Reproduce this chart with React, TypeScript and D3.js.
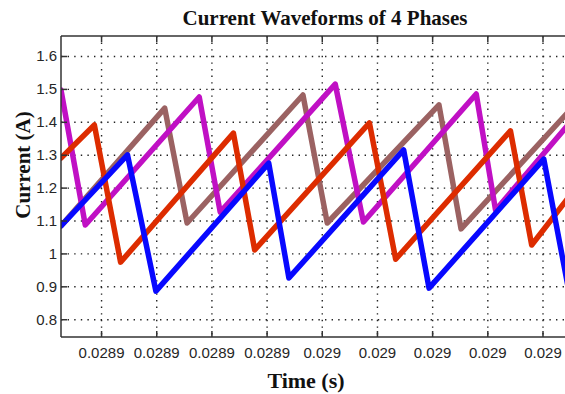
import React from "react";
import * as d3 from "d3";

const title = "Current Waveforms of 4 Phases";
const xLabel = "Time (s)";
const yLabel = "Current (A)";

const xTicks = [0.02888, 0.0289, 0.02892, 0.02894, 0.02896, 0.02898, 0.029, 0.02902, 0.02904];
const xTickLabels = ["0.0289", "0.0289", "0.0289", "0.0289", "0.029", "0.029", "0.029", "0.029", "0.029"];
const yTicks = [0.8, 0.9, 1.0, 1.1, 1.2, 1.3, 1.4, 1.5, 1.6];
const yTickLabels = ["0.8", "0.9", "1", "1.1", "1.2", "1.3", "1.4", "1.5", "1.6"];

// time in microseconds (converted to seconds below), current in A
const brownT = [28865.3, 28902.9, 28911.0, 28953.0, 28961.8, 29002.3, 29010.3, 29049.1];
const brownI = [1.085, 1.443, 1.094, 1.483, 1.094, 1.453, 1.076, 1.431];

const magentaT = [28865.3, 28874.1, 28915.4, 28923.0, 28964.7, 28974.9, 29015.8, 29022.8, 29049.1];
const magentaI = [1.498, 1.088, 1.477, 1.127, 1.516, 1.097, 1.486, 1.133, 1.392];

const redT = [28865.3, 28877.4, 28886.9, 28927.8, 28935.5, 28977.1, 28986.6, 29028.2, 29035.9, 29049.1];
const redI = [1.291, 1.392, 0.975, 1.367, 1.012, 1.398, 0.984, 1.374, 1.027, 1.17];

const blueT = [28865.3, 28889.4, 28899.7, 28940.6, 28947.9, 28989.5, 28998.7, 29040.3, 29049.1];
const blueI = [1.085, 1.301, 0.887, 1.276, 0.927, 1.316, 0.896, 1.288, 0.899];

const series = [
  { name: "Phase 4", color: "#9b6262", t: brownT, i: brownI },
  { name: "Phase 3", color: "#c010c4", t: magentaT, i: magentaI },
  { name: "Phase 2", color: "#dd2c00", t: redT, i: redI },
  { name: "Phase 1", color: "#0808ff", t: blueT, i: blueI },
];

const W = 565;
const H = 394;
const margin = { left: 61, top: 36, right: 0, bottom: 57 };

export default function App() {
  const plotRight = W + 2;
  const x = d3.scaleLinear().domain([0.0288653, 0.0290516]).range([margin.left, plotRight + 8]);
  const y = d3.scaleLinear().domain([0.7475, 1.6623]).range([H - margin.bottom, margin.top]);
  const line = d3
    .line<[number, number]>()
    .x((d) => x(d[0]))
    .y((d) => y(d[1]));
  const x0 = margin.left;
  const x1 = plotRight;
  const y0 = margin.top;
  const y1 = H - margin.bottom;

  return (
    <svg
      width={W}
      height={H}
      style={{ position: "absolute", left: 0, top: 0, background: "#fff" }}
    >
      <defs>
        <clipPath id="plotClip">
          <rect x={x0} y={y0} width={x1 - x0} height={y1 - y0} />
        </clipPath>
      </defs>
      <rect x={0} y={0} width={W} height={H} fill="#fff" />
      {/* grid */}
      <g stroke="#222" strokeWidth={1.4} strokeDasharray="1.4,5.2" fill="none">
        {xTicks.map((t, k) => (
          <line key={"gx" + k} x1={x(t)} x2={x(t)} y1={y0} y2={y1} />
        ))}
        {yTicks.map((v, k) => (
          <line key={"gy" + k} x1={x0} x2={x1} y1={y(v)} y2={y(v)} />
        ))}
      </g>
      {/* series */}
      <g clipPath="url(#plotClip)" fill="none" strokeWidth={5.5} strokeLinejoin="round" strokeLinecap="round">
        {series.map((s) => (
          <path
            key={s.name}
            d={line(s.t.map((tt, k) => [tt / 1e6, s.i[k]] as [number, number])) || ""}
            stroke={s.color}
          />
        ))}
      </g>
      {/* axes box */}
      <g stroke="#333" strokeWidth={1.5} fill="none">
        <line x1={x0} x2={x1} y1={y0} y2={y0} />
        <line x1={x0} x2={x1} y1={y1} y2={y1} />
        <line x1={x0} x2={x0} y1={y0} y2={y1} />
        {xTicks.map((t, k) => (
          <g key={"tx" + k}>
            <line x1={x(t)} x2={x(t)} y1={y1} y2={y1 - 6} />
            <line x1={x(t)} x2={x(t)} y1={y0} y2={y0 + 6} />
          </g>
        ))}
        {yTicks.map((v, k) => (
          <line key={"ty" + k} x1={x0} x2={x0 + 6} y1={y(v)} y2={y(v)} />
        ))}
      </g>
      {/* tick labels */}
      <g fontFamily="'Liberation Sans', Arial, sans-serif" fontSize={15} fill="#262626">
        {xTicks.map((t, k) => (
          <text key={"lx" + k} x={x(t)} y={y1 + 21} textAnchor="middle">
            {xTickLabels[k]}
          </text>
        ))}
        {yTicks.map((v, k) => (
          <text key={"ly" + k} x={x0 - 4} y={y(v) + 5} textAnchor="end">
            {yTickLabels[k]}
          </text>
        ))}
      </g>
      {/* titles */}
      <text
        x={325}
        y={25}
        textAnchor="middle"
        fontFamily="'Liberation Serif', 'Times New Roman', serif"
        fontWeight="bold"
        fontSize={21}
        fill="#111"
      >
        {title}
      </text>
      <text
        x={306}
        y={388}
        textAnchor="middle"
        fontFamily="'Liberation Serif', 'Times New Roman', serif"
        fontWeight="bold"
        fontSize={22}
        fill="#111"
      >
        {xLabel}
      </text>
      <text
        transform={`translate(30, 165) rotate(-90)`}
        textAnchor="middle"
        fontFamily="'Liberation Serif', 'Times New Roman', serif"
        fontWeight="bold"
        fontSize={21}
        fill="#111"
      >
        {yLabel}
      </text>
    </svg>
  );
}
